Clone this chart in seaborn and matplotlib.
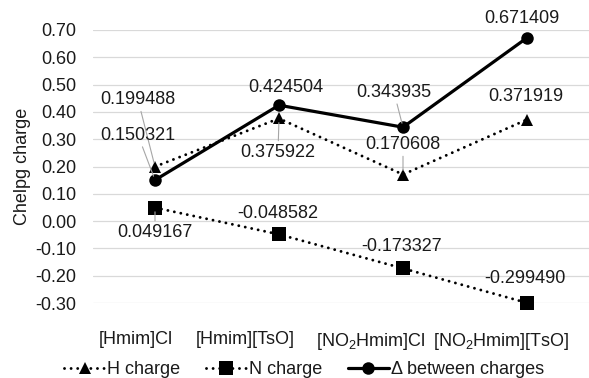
import numpy as np
import pandas as pd
import seaborn as sns
import matplotlib
matplotlib.use("Agg")
import matplotlib.pyplot as plt
import matplotlib.transforms as mtransforms

# ---- data ----
categories = ["[Hmim]Cl", "[Hmim][TsO]", "[NO$_2$Hmim]Cl", "[NO$_2$Hmim][TsO]"]
h_charge = [0.199488, 0.375922, 0.170608, 0.371919]
n_charge = [0.049167, -0.048582, -0.173327, -0.299490]
delta_charge = [0.150321, 0.424504, 0.343935, 0.671409]
series_names = ["H charge", "N charge", "Δ between charges"]
y_ticks = [-0.30, -0.20, -0.10, 0.00, 0.10, 0.20, 0.30, 0.40, 0.50, 0.60, 0.70]

sns.set_theme(style="white")
plt.rcParams["font.family"] = ["Liberation Sans", "DejaVu Sans"]
plt.rcParams["mathtext.fontset"] = "custom"
plt.rcParams["mathtext.rm"] = "Liberation Sans"
plt.rcParams["mathtext.it"] = "Liberation Sans:italic"

TXT = "#1a1a1a"
FS = 13

fig = plt.figure(figsize=(5.89, 3.78), dpi=100)
ax = fig.add_axes([93 / 589, 1 - 303 / 378, 496 / 589, 273 / 378])

x = np.arange(len(categories))
df = pd.DataFrame({"x": x, "H": h_charge, "N": n_charge, "D": delta_charge})

dotted = (0, (0.01, 2.25))
sns.lineplot(data=df, x="x", y="H", ax=ax, color="black", lw=2.1,
             linestyle=dotted, dash_capstyle="round", marker="^", markersize=9,
             markeredgewidth=0, label=series_names[0], clip_on=False)
sns.lineplot(data=df, x="x", y="N", ax=ax, color="black", lw=2.1,
             linestyle=dotted, dash_capstyle="round", marker="s", markersize=9.5,
             markeredgewidth=0, label=series_names[1], clip_on=False)
sns.lineplot(data=df, x="x", y="D", ax=ax, color="black", lw=2.3,
             linestyle="-", marker="o", markersize=9,
             markeredgewidth=0, label=series_names[2], clip_on=False)

ax.set_xlim(-0.5, 3.5)
ax.set_ylim(-0.30, 0.70)
ax.set_yticks(y_ticks)
ax.set_yticklabels([f"{v:.2f}" for v in y_ticks], fontsize=FS, color=TXT)
ax.set_xticks(x)
ax.set_xticklabels(categories, fontsize=FS, color=TXT)
ax.tick_params(axis="both", length=0)
ax.tick_params(axis="y", pad=12)
ax.tick_params(axis="x", pad=20)
for sp in ax.spines.values():
    sp.set_visible(False)
ax.yaxis.grid(True, color="#d9d9d9", lw=0.9)
ax.xaxis.grid(False)
ax.set_axisbelow(True)
ax.set_xlabel("")
ax.set_ylabel("Chelpg charge", fontsize=FS, color=TXT, labelpad=3)

# shift category labels like the reference
shifts = [-19, -34, -32, -26]
for lab, dx in zip(ax.get_xticklabels(), shifts):
    off = mtransforms.ScaledTranslation(dx / 100, 0, fig.dpi_scale_trans)
    lab.set_transform(lab.get_transform() + off)

# data labels: (series values, index, dx, dy, leader)
label_specs = [
    (h_charge, 0, -17, 67, True),
    (delta_charge, 0, -17, 45, True),
    (n_charge, 0, 0, -25, True),
    (delta_charge, 1, 7, 18, False),
    (h_charge, 1, -1, -34, True),
    (n_charge, 1, -1, 21, False),
    (delta_charge, 2, -9, 35, True),
    (h_charge, 2, 0, 30, True),
    (n_charge, 2, -1, 22, False),
    (delta_charge, 3, -5, 19, False),
    (h_charge, 3, -1, 23, False),
    (n_charge, 3, -2, 24, False),
]
for vals, i, dx, dy, leader in label_specs:
    v = vals[i]
    kw = {}
    if leader:
        kw["arrowprops"] = dict(arrowstyle="-", color="#a6a6a6", lw=0.8,
                                shrinkA=0, shrinkB=3)
    ax.annotate(f"{v:.6f}", xy=(x[i], v), xytext=(dx, dy),
                textcoords="offset pixels", ha="center", va="center",
                fontsize=FS, color=TXT, **kw)

handles, labels = ax.get_legend_handles_labels()
ax.legend(handles, labels, loc="center", bbox_to_anchor=(304 / 589, 1 - 370 / 378),
          bbox_transform=fig.transFigure, ncol=3, frameon=False, fontsize=FS,
          handlelength=2.3, handletextpad=0.1, columnspacing=1.4,
          labelcolor=TXT, borderaxespad=0, borderpad=0)

fig.savefig("out.png", dpi=100)
